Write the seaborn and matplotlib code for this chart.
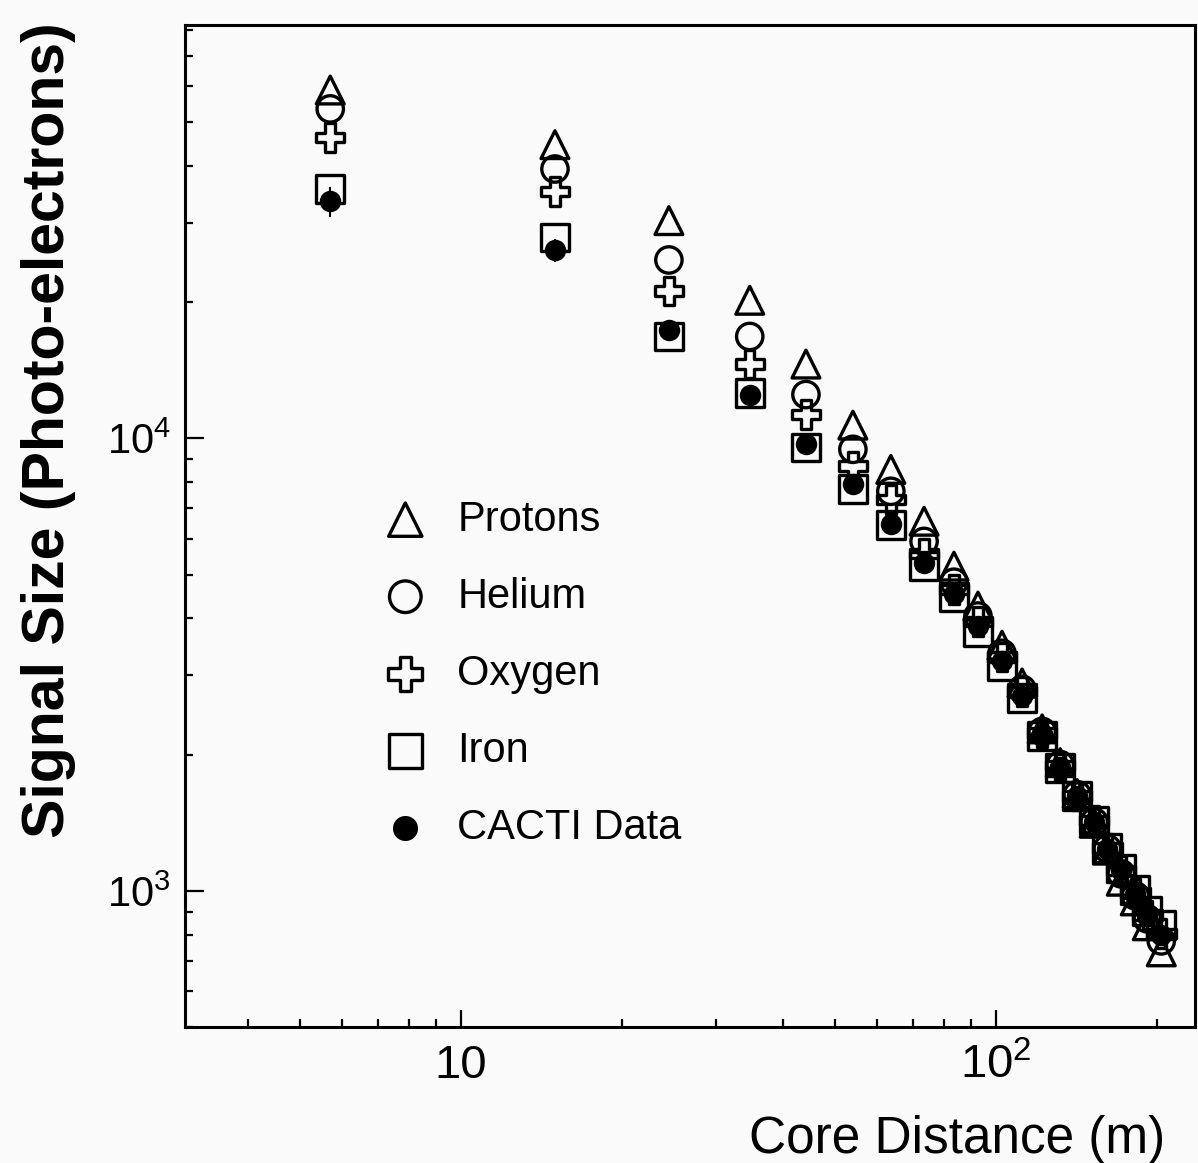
import numpy as np
import pandas as pd
import matplotlib
matplotlib.use("Agg")
import matplotlib.pyplot as plt
import matplotlib.ticker as mticker
import seaborn as sns

# values
core_distance = [5.7, 15.0, 24.5, 34.7, 44.2, 54.1, 63.7, 73.5, 83.6, 92.7,
                 102.8, 112.1, 122.2, 132.1, 142.1, 152.9, 161.8, 171.8, 182.5, 192.2, 204.1]
protons = [58900, 44600, 30300, 20200, 14600, 10700, 8540, 6560, 5220, 4260,
           3490, 2880, 2280, 1920, 1640, 1410, 1230, 1050, 950, 837, 733]
helium = [53500, 39400, 24800, 16800, 12500, 9460, 7640, 5920, 4810, 4050,
          3350, 2790, 2250, 1900, 1630, 1420, 1240, 1090, 975, 867, 775]
oxygen = [46200, 35100, 21200, 14600, 11300, 8680, 7330, 5570, 4640, 3940,
          3290, 2760, 2230, 1890, 1620, 1430, 1245, 1110, 990, 885, 804]
iron = [35600, 27800, 16800, 12600, 9550, 7720, 6430, 5220, 4460, 3730,
        3140, 2670, 2200, 1870, 1620, 1430, 1245, 1120, 1005, 903, 841]
cacti = [33400, 26100, 17400, 12500, 9700, 7910, 6460, 5300, 4520, 3850,
         3220, 2700, 2220, 1880, 1620, 1420, 1240, 1110, 985, 880, 800]
cacti_err = [2600, 1500, 900, 600, 450, 350, 280, 220, 180, 150,
             120, 100, 80, 70, 60, 50, 45, 40, 35, 30, 30]

species = ["Protons", "Helium", "Oxygen", "Iron", "CACTI Data"]
x_ticks = [10, 100]
x_tick_labels = ["10", r"$10^{2}$"]
y_ticks = [1e3, 1e4]
y_tick_labels = [r"$10^{3}$", r"$10^{4}$"]

df = pd.DataFrame({"distance": core_distance, "Protons": protons, "Helium": helium,
                   "Oxygen": oxygen, "Iron": iron, "CACTI Data": cacti})
long = df.melt(id_vars="distance", var_name="species", value_name="signal")

sns.set_theme(style="ticks")
plt.rcParams["font.family"] = ["Liberation Sans", "DejaVu Sans"]
plt.rcParams["mathtext.default"] = "regular"
plt.rcParams["text.color"] = "black"
plt.rcParams["axes.labelcolor"] = "black"

fig = plt.figure(figsize=(11.98, 11.63), dpi=100, facecolor="#fafafa")
ax = fig.add_axes([185 / 1198, 1 - 1027 / 1163, 1010 / 1198, 1002 / 1163])
ax.set_facecolor("#fafafa")

styles = {
    "Protons": dict(marker="^", s=400, facecolor="none"),
    "Helium": dict(marker="o", s=360, facecolor="none"),
    "Oxygen": dict(marker="P", s=420, facecolor="none"),
    "Iron": dict(marker="s", s=400, facecolor="none"),
    "CACTI Data": dict(marker="o", s=170, facecolor="black"),
}

ax.errorbar(core_distance, cacti, yerr=cacti_err, fmt="none", ecolor="black",
            elinewidth=1.5, capsize=0, zorder=4)

for i, name in enumerate(species):
    sub = long[long["species"] == name]
    sns.scatterplot(data=sub, x="distance", y="signal", color="black",
                    edgecolor="black", linewidth=2.4, label=name, ax=ax,
                    zorder=3 + i, **styles[name])

ax.set(xscale="log", yscale="log")
ax.set_xlim(3.05, 236)
ax.set_ylim(500, 82000)

ax.xaxis.set_major_locator(mticker.FixedLocator(x_ticks))
ax.xaxis.set_major_formatter(mticker.FixedFormatter(x_tick_labels))
ax.yaxis.set_major_locator(mticker.FixedLocator(y_ticks))
ax.yaxis.set_major_formatter(mticker.FixedFormatter(y_tick_labels))
for axis in (ax.xaxis, ax.yaxis):
    axis.set_minor_locator(mticker.LogLocator(base=10, subs=np.arange(2, 10), numticks=20))
    axis.set_minor_formatter(mticker.NullFormatter())

ax.tick_params(axis="both", which="both", direction="in", colors="black", width=1.6)
ax.tick_params(axis="x", which="major", length=12, labelsize=34, pad=12)
ax.tick_params(axis="y", which="major", length=14, labelsize=30, pad=10)
ax.tick_params(axis="both", which="minor", length=6)
for sp in ax.spines.values():
    sp.set_linewidth(2.2)
    sp.set_color("black")

ax.set_xlabel("Core Distance (m)", fontsize=37, color="black")
ax.xaxis.set_label_coords(0.764, -0.088)
ax.set_ylabel("Signal Size (Photo-electrons)", fontsize=42.5, fontweight="bold", color="black")
ax.yaxis.set_label_coords(-0.108, 0.596)

ax.legend(loc="upper left", bbox_to_anchor=(0.181, 0.543), frameon=False,
          fontsize=30, markerscale=1.2, handlelength=1.0, handletextpad=0.75,
          labelspacing=0.89, borderaxespad=0, labelcolor="black")

fig.savefig("out.png", dpi=100, facecolor=fig.get_facecolor())
